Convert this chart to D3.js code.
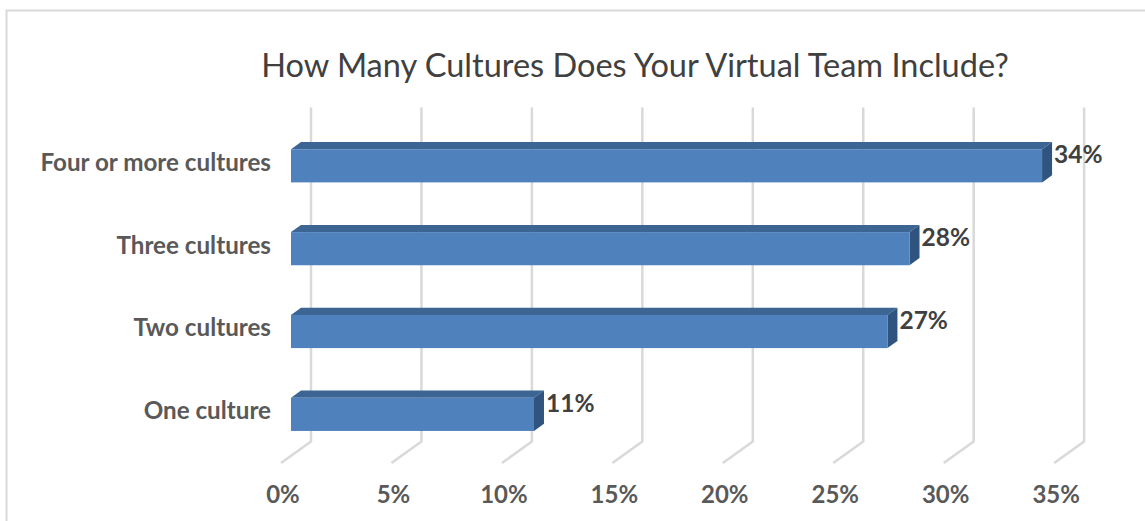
<!DOCTYPE html>
<html>
<head>
<meta charset="utf-8">
<script src="https://cdn.jsdelivr.net/npm/d3@7"></script>
<style>
  html, body { margin: 0; padding: 0; background: #ffffff; }
  svg { display: block; }
  text { font-family: Lato, "Open Sans", sans-serif; }
</style>
</head>
<body>
<svg id="chart" width="1145" height="521"></svg>
<script>
// Survey answers, top to bottom
const categories = ["Four or more cultures", "Three cultures", "Two cultures", "One culture"];
const shares = [34, 28, 27, 11];
const tickValues = [0, 5, 10, 15, 20, 25, 30, 35];
const chartTitle = "How Many Cultures Does Your Virtual Team Include?";

const svg = d3.select("#chart");

// Oblique 3-D projection: depth d runs 0 (front) .. 1 (back wall)
const depthDX = 30, depthDY = -21.6;
const proj = (x, y, d) => [x + depthDX * d, y + depthDY * d];

// Scales laid out on the front plane
const x = d3.scaleLinear().domain([0, 35]).range([281, 281 + 35 * 22.09]);
const y = d3.scaleBand().domain(categories).range([131.6, 463])
  .paddingInner(0.6).paddingOuter(0.3);
const floorY = 463, wallTopY = 129;

// Chart frame
svg.append("rect")
  .attr("x", 6.5).attr("y", 10.5)
  .attr("width", 1150).attr("height", 530)
  .attr("fill", "none").attr("stroke", "#d9d9d9").attr("stroke-width", 2);

// Title
svg.append("text")
  .attr("x", 635).attr("y", 77)
  .attr("text-anchor", "middle")
  .attr("font-size", 32.5).attr("fill", "#404040")
  .text(chartTitle);

// Gridlines: up the back wall, then across the floor toward the viewer
const grid = svg.append("g").attr("fill", "none")
  .attr("stroke", "#d9d9d9").attr("stroke-width", 2.5).attr("stroke-linejoin", "round");
tickValues.forEach(t => {
  const top = proj(x(t), wallTopY, 1);
  const corner = proj(x(t), floorY, 1);
  const front = proj(x(t), floorY, 0);
  grid.append("path").attr("d", d3.line()([top, corner, front]));
});

// Tick labels under the front edge of the floor
svg.append("g").selectAll("text").data(tickValues).join("text")
  .attr("x", d => x(d) + 2).attr("y", 503)
  .attr("text-anchor", "middle")
  .attr("font-size", 24).attr("font-weight", 700).attr("fill", "#595959")
  .text(d => d + "%");

// Bars occupy the middle third of the depth
const d0 = 1 / 3, d1 = 2 / 3;
const bars = svg.append("g");
categories.forEach((c, i) => {
  const v = shares[i];
  const yt = y(c), yb = y(c) + y.bandwidth();
  const xl = x(0), xr = x(v);
  const poly = pts => pts.map(p => p.join(",")).join(" ");
  // top face
  bars.append("polygon")
    .attr("points", poly([proj(xl, yt, d0), proj(xr, yt, d0), proj(xr, yt, d1), proj(xl, yt, d1)]))
    .attr("fill", "#3d6594");
  // side face
  bars.append("polygon")
    .attr("points", poly([proj(xr, yt, d0), proj(xr, yb, d0), proj(xr, yb, d1), proj(xr, yt, d1)]))
    .attr("fill", "#2f5480");
  // front face
  const f0 = proj(xl, yt, d0), f1 = proj(xr, yb, d0);
  bars.append("rect")
    .attr("x", f0[0]).attr("y", f0[1])
    .attr("width", f1[0] - f0[0]).attr("height", f1[1] - f0[1])
    .attr("fill", "#4f81bd");
});

// Category labels
svg.append("g").selectAll("text").data(categories).join("text")
  .attr("x", 271)
  .attr("y", d => proj(0, y(d) + y.bandwidth() / 2, 0.5)[1])
  .attr("dy", "0.35em")
  .attr("text-anchor", "end")
  .attr("font-size", 24.2).attr("font-weight", 700).attr("fill", "#595959")
  .text(d => d);

// Value labels beside the bar ends
svg.append("g").selectAll("text").data(categories).join("text")
  .attr("x", (d, i) => proj(x(shares[i]), 0, d1)[0] + 2)
  .attr("y", d => proj(0, y(d) + y.bandwidth() / 2, d1)[1] - 4)
  .attr("dy", "0.35em")
  .attr("font-size", 24.5).attr("font-weight", 700).attr("fill", "#404040")
  .text((d, i) => shares[i] + "%");
</script>
</body>
</html>
